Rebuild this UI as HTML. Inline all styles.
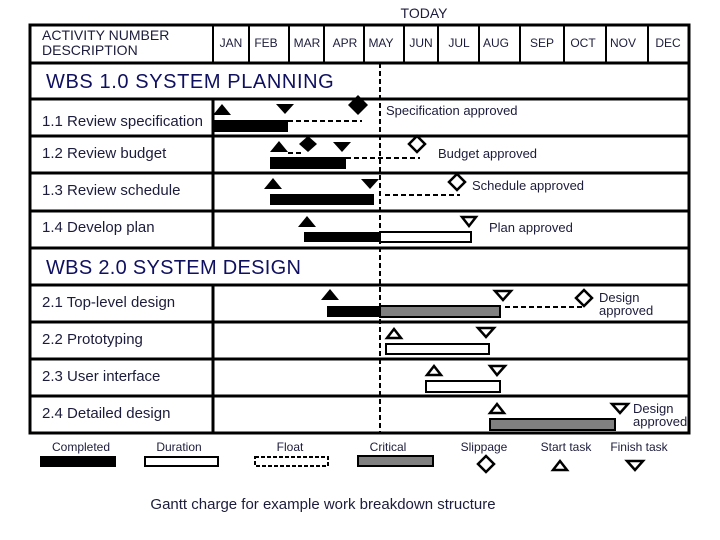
<!DOCTYPE html>
<html><head><meta charset="utf-8"><style>
html,body{margin:0;padding:0;background:#fff;}
svg{display:block;}
text{font-family:"Liberation Sans",sans-serif;fill:#1c1c3c;}
</style></head><body>
<svg width="720" height="540" viewBox="0 0 720 540" xmlns="http://www.w3.org/2000/svg">
<text x="424" y="18" font-size="14" text-anchor="middle">TODAY</text>
<g stroke="#000" stroke-width="3" fill="none">
<rect x="30" y="25" width="659" height="408"/>
<line x1="30" y1="63" x2="689" y2="63"/>
<line x1="30" y1="99" x2="689" y2="99"/>
<line x1="30" y1="136" x2="689" y2="136"/>
<line x1="30" y1="173" x2="689" y2="173"/>
<line x1="30" y1="211" x2="689" y2="211"/>
<line x1="30" y1="248" x2="689" y2="248"/>
<line x1="30" y1="285" x2="689" y2="285"/>
<line x1="30" y1="322" x2="689" y2="322"/>
<line x1="30" y1="359" x2="689" y2="359"/>
<line x1="30" y1="396" x2="689" y2="396"/>
<line x1="213" y1="99" x2="213" y2="248"/>
<line x1="213" y1="285" x2="213" y2="433"/>
</g>
<g stroke="#000" stroke-width="2">
<line x1="213" y1="25" x2="213" y2="63"/>
<line x1="249" y1="25" x2="249" y2="63"/>
<line x1="289" y1="25" x2="289" y2="63"/>
<line x1="324" y1="25" x2="324" y2="63"/>
<line x1="364" y1="25" x2="364" y2="63"/>
<line x1="404" y1="25" x2="404" y2="63"/>
<line x1="438" y1="25" x2="438" y2="63"/>
<line x1="479" y1="25" x2="479" y2="63"/>
<line x1="520" y1="25" x2="520" y2="63"/>
<line x1="564" y1="25" x2="564" y2="63"/>
<line x1="606" y1="25" x2="606" y2="63"/>
<line x1="648" y1="25" x2="648" y2="63"/>
</g>
<text x="42" y="40" font-size="14">ACTIVITY NUMBER</text>
<text x="42" y="55" font-size="14">DESCRIPTION</text>
<g font-size="12" text-anchor="middle">
<text x="231" y="47">JAN</text><text x="266" y="47">FEB</text><text x="307" y="47">MAR</text>
<text x="345" y="47">APR</text><text x="381" y="47">MAY</text><text x="421" y="47">JUN</text>
<text x="459" y="47">JUL</text><text x="496" y="47">AUG</text><text x="542" y="47">SEP</text>
<text x="583" y="47">OCT</text><text x="623" y="47">NOV</text><text x="668" y="47">DEC</text>
</g>
<line x1="380" y1="63" x2="380" y2="433" stroke="#000" stroke-width="2" stroke-dasharray="5,3"/>
<rect x="40" y="66" width="300" height="30" fill="#fff"/>
<rect x="40" y="252" width="262" height="30" fill="#fff"/>
<text x="46" y="88" font-size="20" letter-spacing="0.6" style="fill:#101060">WBS 1.0  SYSTEM PLANNING</text>
<text x="46" y="274" font-size="20" letter-spacing="0.3" style="fill:#101060">WBS 2.0  SYSTEM DESIGN</text>
<g font-size="15">
<text x="42" y="126">1.1 Review specification</text>
<text x="42" y="158">1.2 Review budget</text>
<text x="42" y="195">1.3 Review schedule</text>
<text x="42" y="232">1.4 Develop plan</text>
<text x="42" y="307">2.1 Top-level design</text>
<text x="42" y="344">2.2 Prototyping</text>
<text x="42" y="381">2.3 User interface</text>
<text x="42" y="418">2.4 Detailed design</text>
</g>
<g font-size="13">
<text x="386" y="115">Specification approved</text>
<text x="438" y="158">Budget approved</text>
<text x="472" y="190">Schedule approved</text>
<text x="489" y="232">Plan approved</text>
<text x="599" y="302">Design</text><text x="599" y="315">approved</text>
<text x="633" y="413">Design</text><text x="633" y="426">approved</text>
</g>
<g stroke="#000" stroke-width="2" stroke-dasharray="5,3">
<line x1="288" y1="121" x2="362" y2="121"/>
<line x1="288" y1="153" x2="302" y2="153"/>
<line x1="346" y1="158" x2="420" y2="158"/>
<line x1="385" y1="195" x2="460" y2="195"/>
<line x1="505" y1="307" x2="582" y2="307"/>
</g>
<rect x="213" y="120" width="75" height="12" fill="#000"/>
<rect x="270" y="157" width="76" height="12" fill="#000"/>
<rect x="270" y="194" width="104" height="11" fill="#000"/>
<rect x="304" y="232" width="76" height="10" fill="#000"/>
<rect x="380" y="232" width="91" height="10" fill="#fff" stroke="#000" stroke-width="2"/>
<rect x="327" y="306" width="53" height="11" fill="#000"/>
<rect x="380" y="306" width="120" height="11" fill="#808080" stroke="#000" stroke-width="2"/>
<rect x="386" y="344" width="103" height="10" fill="#fff" stroke="#000" stroke-width="2"/>
<rect x="426" y="381" width="74" height="11" fill="#fff" stroke="#000" stroke-width="2"/>
<rect x="490" y="419" width="125" height="11" fill="#808080" stroke="#000" stroke-width="2"/>
<g fill="#000">
<polygon points="213,115 222,104 231,115"/>
<polygon points="276,104 294,104 285,114"/>
<polygon points="358,95 368,105 358,115 348,105"/>
<polygon points="270,152 279,141 288,152"/>
<polygon points="308,136 317,144 308,152 299,144"/>
<polygon points="333,142 351,142 342,152"/>
<polygon points="264,189 273,178 282,189"/>
<polygon points="361,179 379,179 370,189"/>
<polygon points="298,227 307,216 316,227"/>
<polygon points="321,300 330,289 339,300"/>
</g>
<g fill="#fff" stroke="#000" stroke-width="2.5">
<polygon points="417,136 425,144 417,152 409,144"/>
<polygon points="457,174 465,182 457,190 449,182"/>
<polygon points="462,217 476,217 469,226"/>
<polygon points="495,291 511,291 503,300"/>
<polygon points="584,290 592,298 584,306 576,298"/>
<polygon points="387,338 394,329 401,338"/>
<polygon points="478,328 494,328 486,337"/>
<polygon points="427,375 434,366 441,375"/>
<polygon points="490,366 505,366 497,375"/>
<polygon points="490,413 497,404 504,413"/>
<polygon points="612,404 628,404 620,413"/>
</g>
<g font-size="12" text-anchor="middle">
<text x="81" y="451">Completed</text><text x="179" y="451">Duration</text>
<text x="290" y="451">Float</text><text x="388" y="451">Critical</text>
<text x="484" y="451">Slippage</text><text x="566" y="451">Start task</text>
<text x="639" y="451">Finish task</text>
</g>
<rect x="40" y="456" width="76" height="11" fill="#000"/>
<rect x="145" y="457" width="73" height="9" fill="#fff" stroke="#000" stroke-width="2"/>
<rect x="255" y="457" width="73" height="9" fill="#fff" stroke="#000" stroke-width="2" stroke-dasharray="4,2"/>
<rect x="358" y="456" width="75" height="10" fill="#808080" stroke="#000" stroke-width="2"/>
<g fill="#fff" stroke="#000" stroke-width="2.5">
<polygon points="486,456 494,464 486,472 478,464"/>
<polygon points="553,470 560,461 567,470"/>
<polygon points="627,461 643,461 635,470"/>
</g>
<text x="323" y="509" font-size="15" text-anchor="middle">Gantt charge for example work breakdown structure</text>
</svg>
</body></html>
